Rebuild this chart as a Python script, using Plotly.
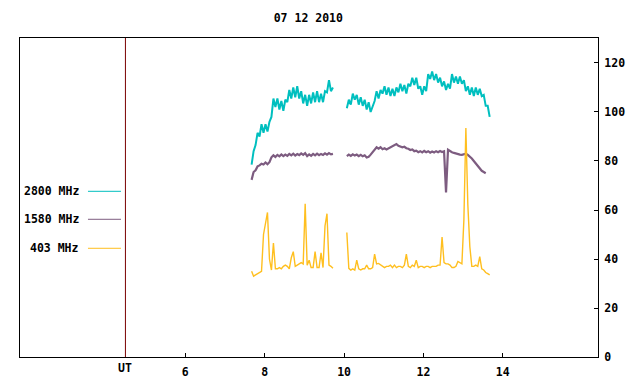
import numpy as np
import plotly.graph_objects as go

# ---- data -------------------------------------------------------------
title_text = "07 12 2010"
series_names = ["2800 MHz", "1580 MHz", "403 MHz"]
series_colors = ["#00bfbf", "#7d5c80", "#ffbf1f"]

t_start = 7.67          # hours UT of first sample
t_step = 0.05           # sampling step (hours)

flux_2800 = [78.5, 84, 86.5, 91.5, 90, 95, 91.5, 95, 92, 96,
             98, 105.5, 102, 105.5, 101, 104.5, 100.5, 105, 104, 109,
             105.5, 110, 106, 110.5, 105.5, 108.5, 103.5, 107, 102.5, 107,
             103.5, 108, 104, 108.5, 104, 107.5, 104, 108.5, 108, 113,
             108.5, 110,
             None, None, None, None, None, None,
             101.5, 105, 103, 107.5, 105, 107, 103, 106, 102.5, 105,
             101, 104, 100, 102.5, 104.5, 108.5, 105.5, 109, 107.5, 110.5,
             107, 110, 106.5, 109.5, 106.5, 110, 108, 111.5, 108.5, 111,
             107.5, 111.5, 110.5, 114, 111, 114, 109.5, 110.5, 107, 110.5,
             108.5, 115.5, 113.5, 116.5, 113, 115.5, 112, 114, 110.5, 112.5,
             109, 111.5, 109.5, 115.5, 112, 114.5, 111.5, 114.5, 111.5, 113,
             108.5, 110.5, 107, 110, 106.5, 110, 107, 109.5, 106.5, 107,
             102.5, 102.5, 98]

flux_1580 = [72.3, 75.5, 76.2, 77.8, 78.2, 78.9, 78.6, 79.4, 78.7, 79.5,
             81.5, 82.3, 81.6, 82.5, 81.9, 82.7, 82.0, 82.6, 82.1, 82.9,
             82.3, 83.0, 82.2, 82.8, 82.4, 83.1, 82.5, 83.2, 82.0, 82.7,
             82.1, 82.9, 82.3, 83.0, 82.4, 82.9, 82.5, 83.1, 82.6, 83.2,
             82.7, 82.9,
             None, None, None, None, None, None,
             82.0, 82.6, 82.1, 82.7, 82.2, 82.6, 82.0, 82.5, 81.9, 82.3,
             81.4, 81.7, 82.6, 83.6, 85.0, 85.6, 85.0, 85.6, 84.8, 85.2,
             84.7, 85.1, 85.6, 86.2, 86.4, 86.9, 86.2, 86.0, 85.6, 85.8,
             85.2, 85.0, 84.5, 84.7, 84.0, 84.2, 83.6, 84.0, 83.5, 84.1,
             83.6, 84.0, 83.4, 83.9, 83.5, 84.0, 83.6, 84.1, 83.7, 84.0,
             67.2, 84.6, 84.0, 83.6, 83.3, 83.0, 82.8, 82.6, 82.5, 82.6,
             83.0, 82.5, 81.8, 81.0, 80.0, 79.0, 78.0, 77.0, 76.0, 75.5,
             75.0]

flux_403 = [35, 33, 33.5, 34, 34.5, 35, 50, 55, 59, 40,
            35.5, 46.5, 36, 36, 36.5, 36, 37, 37.5, 37, 36,
            40.5, 43, 37, 37.5, 38, 38.5, 38, 62.5, 37.5, 39.5,
            36.5, 36.5, 43, 36.5, 36.5, 42.5, 36.5, 53.5, 58.5, 37.5,
            37, 36.2,
            None, None, None, None, None, None,
            50.8, 36.2, 35.5, 36, 35.5, 39.5, 36, 35.5, 36, 36,
            37.5, 36, 36, 36.5, 42, 38, 38.2, 37.5, 37, 36.5,
            37, 37, 37.5, 36.5, 37.5, 36.5, 37, 37, 36.5, 37.5,
            42, 37, 36.5, 37.5, 37, 39.5, 36.5, 37, 37, 36.5,
            37, 37, 36.5, 37, 37, 37, 37.5, 37.5, 49, 38.5,
            38, 38, 37.5, 36.5, 36.5, 37, 39, 38.5, 38, 56,
            93.5, 62, 45, 37, 37, 37.5, 37, 41, 36, 35.5,
            34.5, 34, 33.5]

x_range = [1.833, 16.40]
y_range = [0, 130.2]
x_tick_vals = [6, 8, 10, 12, 14]
y_tick_vals = [0, 20, 40, 60, 80, 100, 120]
ut_pos = 4.49

# ---- figure -----------------------------------------------------------
n = len(flux_2800)
times = t_start + t_step * np.arange(n)

FONT = "DejaVu Sans Mono"
widths = [2.0, 2.2, 1.4]
fig = go.Figure()
for name, vals, col, w in zip(series_names, [flux_2800, flux_1580, flux_403],
                              series_colors, widths):
    fig.add_trace(go.Scatter(x=times, y=vals, mode="lines", name=name,
                             line=dict(color=col, width=w),
                             connectgaps=False, showlegend=False))

# UT reference line
fig.add_shape(type="line", xref="x", yref="paper", x0=ut_pos, x1=ut_pos,
              y0=0, y1=1, line=dict(color="#7a0000", width=1))
fig.add_annotation(x=ut_pos, y=-0.035, xref="x", yref="paper", text="UT",
                   showarrow=False, yanchor="middle",
                   font=dict(family=FONT, size=11.5, color="black", weight="bold"))

# legend drawn gnuplot-style (text then line sample)
leg_y = [0.5194, 0.4317, 0.3408]
for name, col, yy in zip(series_names, series_colors, leg_y):
    fig.add_annotation(x=0.1055, y=yy, xref="paper", yref="paper", text=name,
                       showarrow=False, xanchor="right", yanchor="middle",
                       font=dict(family=FONT, size=11.5, color="black", weight="bold"))
    fig.add_shape(type="line", xref="paper", yref="paper",
                  x0=0.1176, x1=0.1747, y0=yy, y1=yy,
                  line=dict(color=col, width=1))

fig.update_layout(
    width=632, height=376,
    margin=dict(l=12, r=42, t=30, b=27),
    paper_bgcolor="white", plot_bgcolor="white",
    title=dict(text=title_text, x=0.4752, xanchor="center", y=0.9726, yanchor="middle",
               font=dict(family=FONT, size=11.5, color="black", weight="bold")),
    font=dict(family=FONT, size=11.5, color="black"),
)
fig.update_xaxes(range=x_range, tickvals=x_tick_vals,
                 ticktext=[str(v) for v in x_tick_vals],
                 ticks="inside", ticklen=4, tickcolor="black",
                 ticklabelstandoff=4, automargin=False,
                 showline=True, linecolor="black", linewidth=1, mirror=True,
                 showgrid=False, zeroline=False,
                 tickfont=dict(family=FONT, size=11.5, color="black", weight="bold"))
fig.update_yaxes(range=y_range, side="right", tickvals=y_tick_vals,
                 ticks="inside", ticklen=4, tickcolor="black",
                 ticklabelstandoff=3, automargin=False,
                 showline=True, linecolor="black", linewidth=1, mirror=True,
                 showgrid=False, zeroline=False,
                 tickfont=dict(family=FONT, size=11.5, color="black", weight="bold"))

fig.write_html("out.html")
